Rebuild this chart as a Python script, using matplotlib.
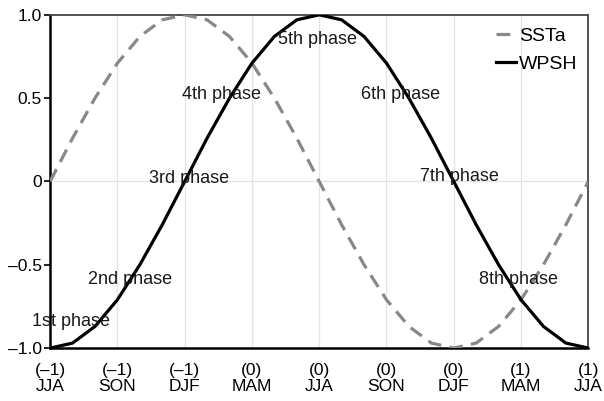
import numpy as np
import matplotlib
matplotlib.use("Agg")
import matplotlib.pyplot as plt

plt.rcParams['font.family'] = ['Liberation Sans', 'DejaVu Sans']

# x in seasons (0 = JJA(-1) ... 8 = JJA(1)), sampled monthly
months = np.arange(25) / 3.0

sst = [0.0, 0.26, 0.5, 0.71, 0.87, 0.97, 1.0, 0.97, 0.87, 0.71, 0.5, 0.26, 0.0,
       -0.26, -0.5, -0.71, -0.87, -0.97, -1.0, -0.97, -0.87, -0.71, -0.5, -0.26, 0.0]
wpsh = [-1.0, -0.97, -0.87, -0.71, -0.5, -0.26, 0.0, 0.26, 0.5, 0.71, 0.87, 0.97, 1.0,
        0.97, 0.87, 0.71, 0.5, 0.26, 0.0, -0.26, -0.5, -0.71, -0.87, -0.97, -1.0]

xticklabels = ['(\u20131)\nJJA', '(\u20131)\nSON', '(\u20131)\nDJF', '(0)\nMAM', '(0)\nJJA',
               '(0)\nSON', '(0)\nDJF', '(1)\nMAM', '(1)\nJJA']
yticks = [-1.0, -0.5, 0, 0.5, 1.0]
yticklabels = ['\u20131.0', '\u20130.5', '0', '0.5', '1.0']

phase_names = ['1st phase', '2nd phase', '3rd phase', '4th phase',
               '5th phase', '6th phase', '7th phase', '8th phase']
phase_x = [0.31, 1.19, 2.06, 2.55, 3.97, 5.21, 6.09, 6.96]
phase_y = [-0.84, -0.59, 0.02, 0.52, 0.85, 0.52, 0.03, -0.59]

fig = plt.figure(figsize=(6.04, 4.01), dpi=100)
ax = fig.add_axes([0.083, 0.132, 0.891, 0.831])

for xv in range(1, 8):
    ax.axvline(xv, color='#e4e4e4', lw=0.9, zorder=0)
ax.axhline(0, color='#e4e4e4', lw=0.9, zorder=0)

ax.plot(months, sst, color='#888888', lw=2.3, dashes=(4.3, 2.6), label='SSTa', zorder=3)
ax.plot(months, wpsh, color='black', lw=2.3, label='WPSH', zorder=3)

for name, px, py in zip(phase_names, phase_x, phase_y):
    ax.text(px, py, name, ha='center', va='center', fontsize=13, color='#1a1a1a', zorder=4)

ax.set_xlim(0, 8)
ax.set_ylim(-1, 1)
ax.set_xticks(range(9))
ax.set_xticklabels(xticklabels, fontsize=12.5, linespacing=1.05)
ax.set_yticks(yticks)
ax.set_yticklabels(yticklabels, fontsize=12.5)
ax.tick_params(axis='x', length=0, pad=11)
ax.tick_params(axis='y', length=4, width=1.2, direction='out', pad=2)

ax.spines['left'].set_linewidth(1.8)
ax.spines['bottom'].set_linewidth(1.8)
ax.spines['top'].set_linewidth(1.3)
ax.spines['top'].set_color('#444444')
ax.spines['right'].set_linewidth(1.3)
ax.spines['right'].set_color('#444444')

leg = ax.legend(loc='upper right', bbox_to_anchor=(0.995, 0.985), frameon=False,
                fontsize=14, handlelength=1.05, handletextpad=0.15,
                borderaxespad=0.0, labelspacing=0.5)

fig.savefig('out.png', dpi=100)
